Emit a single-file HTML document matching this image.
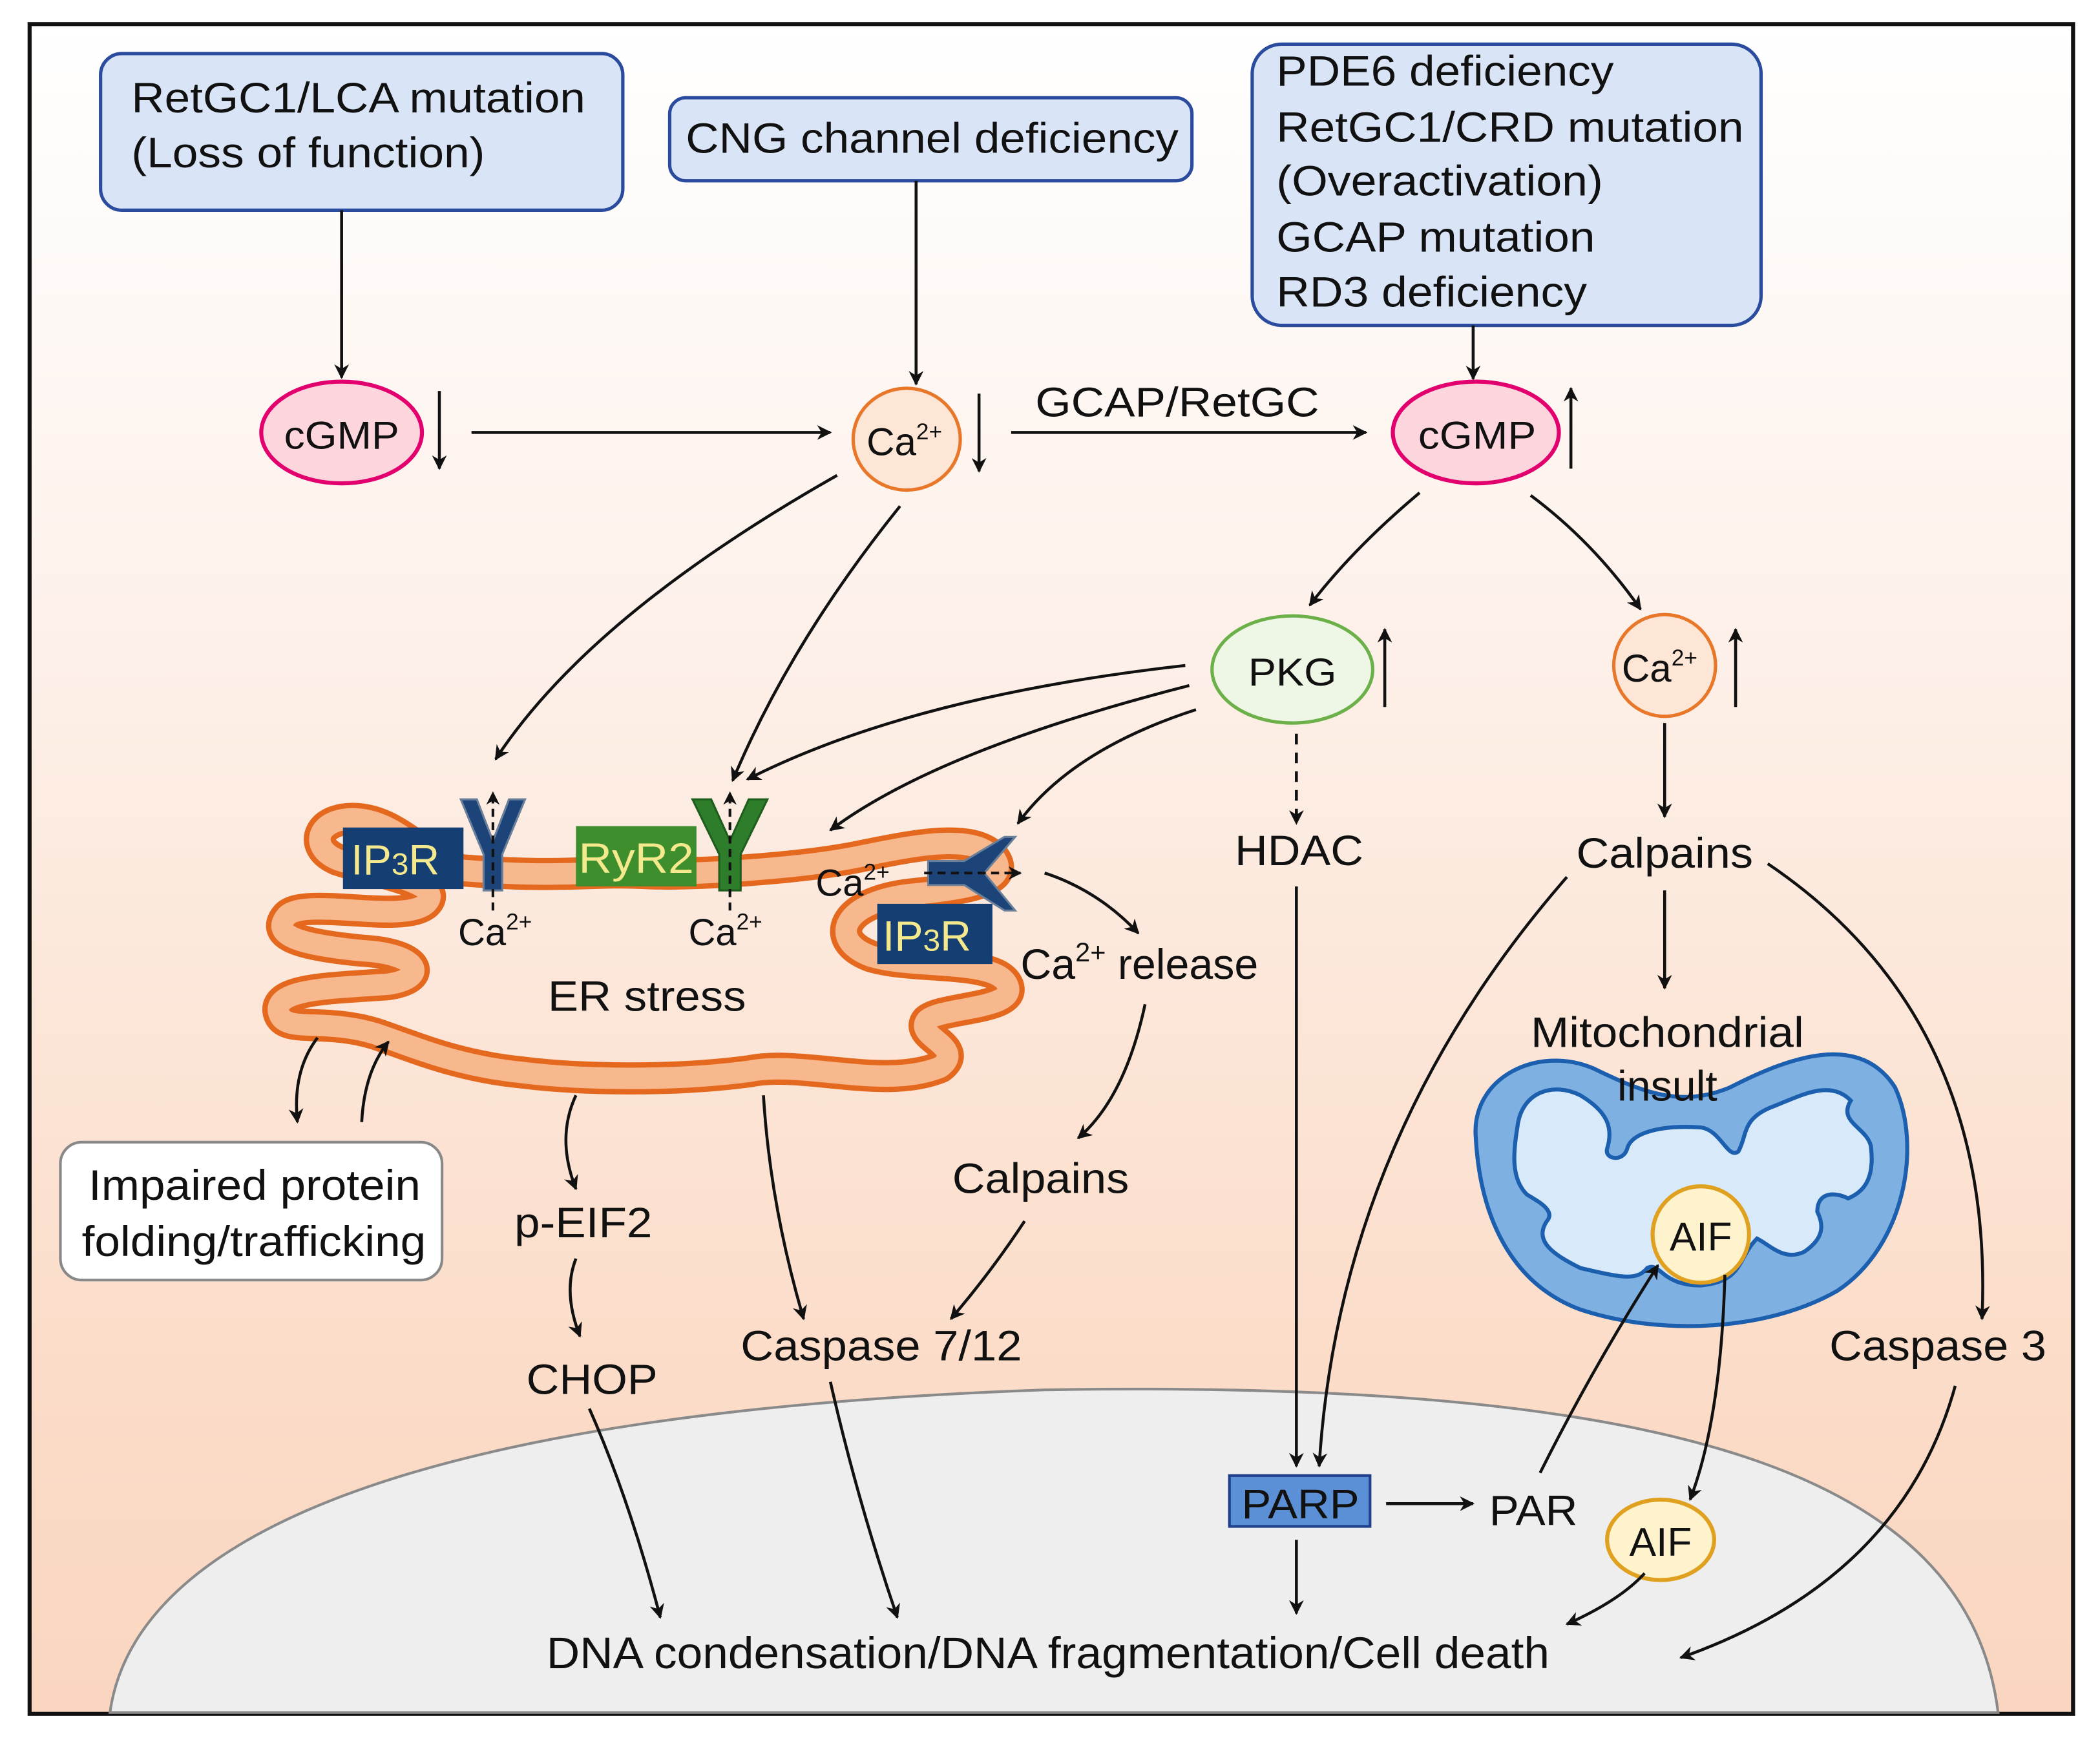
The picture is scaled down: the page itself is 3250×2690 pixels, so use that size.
<!DOCTYPE html>
<html><head><meta charset="utf-8"><style>html,body{margin:0;padding:0;background:#fff}svg{display:block}text{font-family:"Liberation Sans",Arial,sans-serif;fill:#111}</style></head>
<body>
<svg width="3250" height="2690" viewBox="0 0 1568 1298" xmlns="http://www.w3.org/2000/svg">
<defs>
<linearGradient id="bg" x1="0" y1="0" x2="0" y2="1">
<stop offset="0" stop-color="#ffffff"/><stop offset="0.35" stop-color="#fdf1ea"/><stop offset="0.8" stop-color="#fbdcc8"/><stop offset="1" stop-color="#fad6c0"/>
</linearGradient>
<marker id="a" viewBox="0 0 10 10" refX="9" refY="5" markerWidth="5" markerHeight="5" orient="auto-start-reverse"><path d="M0,0 L10,5 L0,10 L3,5 Z" fill="#111"/></marker>
</defs>
<rect x="0" y="0" width="1568" height="1298" fill="#fff"/>
<rect x="22" y="18" width="1526" height="1262" fill="url(#bg)" stroke="#111" stroke-width="3"/>
<path d="M82,1279 C100,1150 300,1055 780,1038 C1250,1030 1470,1100 1492,1279 Z" fill="#eeeeee" stroke="#8a8a8a" stroke-width="2"/>

<!-- top boxes -->
<rect x="75" y="40" width="390" height="117" rx="16" fill="#d9e5f6" stroke="#2b4c9e" stroke-width="2.5"/>
<text x="98" y="84" font-size="32" textLength="339" lengthAdjust="spacingAndGlyphs">RetGC1/LCA mutation</text>
<text x="98" y="125" font-size="32" textLength="264" lengthAdjust="spacingAndGlyphs">(Loss of function)</text>
<rect x="500" y="73" width="390" height="62" rx="12" fill="#d9e5f6" stroke="#2b4c9e" stroke-width="2.5"/>
<text x="512" y="114" font-size="32" textLength="368" lengthAdjust="spacingAndGlyphs">CNG channel deficiency</text>
<rect x="935" y="33" width="380" height="210" rx="22" fill="#d9e5f6" stroke="#2b4c9e" stroke-width="2.5"/>
<text x="953" y="64" font-size="32" textLength="252" lengthAdjust="spacingAndGlyphs">PDE6 deficiency</text>
<text x="953" y="106" font-size="32" textLength="349" lengthAdjust="spacingAndGlyphs">RetGC1/CRD mutation</text>
<text x="953" y="146" font-size="32" textLength="244" lengthAdjust="spacingAndGlyphs">(Overactivation)</text>
<text x="953" y="188" font-size="32" textLength="238" lengthAdjust="spacingAndGlyphs">GCAP mutation</text>
<text x="953" y="229" font-size="32" textLength="232" lengthAdjust="spacingAndGlyphs">RD3 deficiency</text>

<!-- nodes -->
<ellipse cx="255" cy="323" rx="60" ry="38" fill="#fdd5dc" stroke="#e2006e" stroke-width="3"/>
<text x="212" y="335" font-size="29" textLength="86" lengthAdjust="spacingAndGlyphs">cGMP</text>
<ellipse cx="677" cy="328" rx="40" ry="38" fill="#fde6d6" stroke="#e8772a" stroke-width="2.5"/>
<text x="647" y="340" font-size="29">Ca<tspan font-size="17" dy="-12">2+</tspan></text>
<ellipse cx="1102" cy="323" rx="62" ry="38" fill="#fdd5dc" stroke="#e2006e" stroke-width="3"/>
<text x="1059" y="335" font-size="29" textLength="88" lengthAdjust="spacingAndGlyphs">cGMP</text>
<ellipse cx="965" cy="500" rx="60" ry="40" fill="#eef7e6" stroke="#6cb04a" stroke-width="2.5"/>
<text x="932" y="512" font-size="29" textLength="66" lengthAdjust="spacingAndGlyphs">PKG</text>
<ellipse cx="1243" cy="497" rx="38" ry="38" fill="#fde6d6" stroke="#e8772a" stroke-width="2.5"/>
<text x="1211" y="509" font-size="29">Ca<tspan font-size="17" dy="-12">2+</tspan></text>

<!-- ER -->
<g fill="none" stroke-linejoin="round">
<path d="M345,650 C420,656 440,650 480,652 S600,648 640,640 S725,622 742,640 C756,658 722,664 680,668 C628,674 618,702 650,714 C682,724 742,716 752,735 C762,754 702,752 692,762 C682,774 722,782 702,797 C660,814 600,792 560,800 C500,808 430,806 390,801 C340,796 310,782 280,772 C240,760 212,772 208,756 C204,738 250,738 290,735 C322,730 312,712 270,710 C230,706 200,700 214,684 C228,670 300,690 318,675 C334,660 282,652 252,642 C228,632 238,608 270,612 C300,616 318,644 345,650 Z" stroke="#e4691f" stroke-width="24"/>
<path d="M345,650 C420,656 440,650 480,652 S600,648 640,640 S725,622 742,640 C756,658 722,664 680,668 C628,674 618,702 650,714 C682,724 742,716 752,735 C762,754 702,752 692,762 C682,774 722,782 702,797 C660,814 600,792 560,800 C500,808 430,806 390,801 C340,796 310,782 280,772 C240,760 212,772 208,756 C204,738 250,738 290,735 C322,730 312,712 270,710 C230,706 200,700 214,684 C228,670 300,690 318,675 C334,660 282,652 252,642 C228,632 238,608 270,612 C300,616 318,644 345,650 Z" stroke="#f8b88e" stroke-width="16"/>
</g>
<!-- receptors -->
<path d="M344,597 L356,597 L368,628 L380,597 L392,597 L375,638 L375,665 L361,665 L361,638 Z" fill="#1c4478" stroke="#6a7f99" stroke-width="1.5"/>
<path d="M517,597 L531,597 L545,628 L559,597 L573,597 L553,638 L553,665 L537,665 L537,638 Z" fill="#2e7d2a" stroke="#1f5d1f" stroke-width="1.5"/>
<path d="M693,643 L720,643 L750,625 L758,625 L735,652 L758,680 L750,680 L720,661 L693,661 Z" fill="#1c4478" stroke="#6a7f99" stroke-width="1.5"/>
<rect x="256" y="618" width="90" height="46" fill="#153e73"/>
<text x="262" y="653" font-size="32" style="fill:#f4e98c">IP<tspan font-size="23">3</tspan>R</text>
<rect x="430" y="617" width="90" height="45" fill="#3e8e2e"/>
<text x="432" y="652" font-size="32" style="fill:#f4e98c" textLength="86" lengthAdjust="spacingAndGlyphs">RyR2</text>
<rect x="655" y="675" width="86" height="45" fill="#153e73"/>
<text x="659" y="710" font-size="32" style="fill:#f4e98c">IP<tspan font-size="23">3</tspan>R</text>
<g stroke="#111" stroke-width="2" fill="none">
<line x1="368" y1="680" x2="368" y2="592" stroke-dasharray="6,4" marker-end="url(#a)"/>
<line x1="545" y1="680" x2="545" y2="592" stroke-dasharray="6,4" marker-end="url(#a)"/>
<line x1="690" y1="652" x2="762" y2="652" stroke-dasharray="6,4" marker-end="url(#a)"/>
</g>
<text x="342" y="706" font-size="28">Ca<tspan font-size="17" dy="-12">2+</tspan></text>
<text x="514" y="706" font-size="28">Ca<tspan font-size="17" dy="-12">2+</tspan></text>
<text x="609" y="669" font-size="28">Ca<tspan font-size="17" dy="-12">2+</tspan></text>
<text x="409" y="755" font-size="32" textLength="148" lengthAdjust="spacingAndGlyphs">ER stress</text>

<!-- mito -->
<path d="M1102,850 C1098,805 1148,780 1190,798 C1225,815 1255,828 1292,812 C1335,790 1388,770 1415,812 C1435,855 1423,930 1372,964 C1320,994 1240,998 1180,978 C1126,958 1105,905 1102,850 Z" fill="#7fb0e2" stroke="#1b5fae" stroke-width="3"/>
<path d="M1133,842 C1136,815 1160,808 1180,818 C1200,830 1205,842 1200,858 C1198,866 1212,868 1215,858 C1218,846 1240,840 1270,842 C1285,844 1290,866 1298,860 C1305,848 1300,835 1325,826 C1345,818 1367,806 1382,822 C1372,838 1394,842 1397,856 C1400,880 1392,890 1380,895 C1370,890 1357,890 1357,905 C1362,915 1362,925 1347,935 C1332,942 1322,930 1312,925 C1297,940 1302,957 1270,960 C1240,960 1240,942 1230,947 C1222,957 1210,954 1180,947 C1160,937 1145,927 1155,912 C1162,904 1148,897 1140,892 C1128,880 1130,860 1133,842 Z" fill="#d8eaf9" stroke="#1b5fae" stroke-width="3"/>
<text x="1143" y="782" font-size="32" textLength="204" lengthAdjust="spacingAndGlyphs">Mitochondrial</text>
<text x="1245" y="822" font-size="32" text-anchor="middle">insult</text>
<circle cx="1270" cy="922" r="36" fill="#fef3cc" stroke="#e0a020" stroke-width="3"/>
<text x="1270" y="934" font-size="30" text-anchor="middle">AIF</text>
<ellipse cx="1240" cy="1150" rx="40" ry="30" fill="#fef3cc" stroke="#e0a020" stroke-width="3"/>
<text x="1240" y="1162" font-size="30" text-anchor="middle">AIF</text>

<!-- other labels -->
<text x="773" y="311" font-size="31" textLength="212" lengthAdjust="spacingAndGlyphs">GCAP/RetGC</text>
<text x="922" y="646" font-size="32" textLength="96" lengthAdjust="spacingAndGlyphs">HDAC</text>
<text x="1177" y="648" font-size="32" textLength="132" lengthAdjust="spacingAndGlyphs">Calpains</text>
<text x="1366" y="1016" font-size="32" textLength="162" lengthAdjust="spacingAndGlyphs">Caspase 3</text>
<rect x="918" y="1102" width="105" height="38" fill="#5b8fd6" stroke="#1f3f8a" stroke-width="2"/>
<text x="927" y="1134" font-size="31" textLength="88" lengthAdjust="spacingAndGlyphs">PARP</text>
<text x="1112" y="1139" font-size="32" textLength="66" lengthAdjust="spacingAndGlyphs">PAR</text>
<text x="408" y="1246" font-size="33" textLength="749" lengthAdjust="spacingAndGlyphs">DNA condensation/DNA fragmentation/Cell death</text>
<text x="553" y="1016" font-size="32" textLength="210" lengthAdjust="spacingAndGlyphs">Caspase 7/12</text>
<text x="393" y="1041" font-size="32" textLength="98" lengthAdjust="spacingAndGlyphs">CHOP</text>
<text x="384" y="924" font-size="32" textLength="103" lengthAdjust="spacingAndGlyphs">p-EIF2</text>
<text x="711" y="891" font-size="32" textLength="132" lengthAdjust="spacingAndGlyphs">Calpains</text>
<text x="762" y="731" font-size="32">Ca<tspan font-size="20" dy="-13">2+</tspan><tspan dy="13"> release</tspan></text>
<rect x="45" y="853" width="285" height="103" rx="16" fill="#fff" stroke="#888" stroke-width="2"/>
<text x="66" y="896" font-size="32" textLength="248" lengthAdjust="spacingAndGlyphs">Impaired protein</text>
<text x="61" y="938" font-size="32" textLength="257" lengthAdjust="spacingAndGlyphs">folding/trafficking</text>

<!-- arrows -->
<g stroke="#111" stroke-width="2.2" fill="none" marker-end="url(#a)">
<line x1="255" y1="157" x2="255" y2="282"/>
<line x1="328" y1="292" x2="328" y2="350"/>
<line x1="352" y1="323" x2="620" y2="323"/>
<line x1="684" y1="135" x2="684" y2="287"/>
<line x1="731" y1="294" x2="731" y2="352"/>
<line x1="755" y1="323" x2="1020" y2="323"/>
<line x1="1100" y1="243" x2="1100" y2="283"/>
<line x1="1173" y1="350" x2="1173" y2="290"/>
<path d="M1060,368 Q1010,410 978,452"/>
<path d="M1143,370 Q1190,405 1225,455"/>
<line x1="1034" y1="528" x2="1034" y2="470"/>
<line x1="1296" y1="528" x2="1296" y2="470"/>
<path d="M625,355 Q440,460 370,567"/>
<path d="M672,378 Q590,480 547,583"/>
<path d="M885,497 Q680,520 558,582"/>
<path d="M888,512 Q700,560 620,620"/>
<path d="M893,530 Q800,560 760,615"/>
<line x1="968" y1="548" x2="968" y2="615" stroke-dasharray="8,6"/>
<line x1="968" y1="662" x2="968" y2="1095"/>
<line x1="1243" y1="540" x2="1243" y2="610"/>
<line x1="1243" y1="665" x2="1243" y2="738"/>
<path d="M1170,655 Q1000,850 985,1095"/>
<path d="M1320,645 Q1490,760 1480,985"/>
<path d="M780,652 Q820,665 850,697"/>
<path d="M855,750 Q840,820 805,850"/>
<path d="M765,912 Q740,950 710,985"/>
<path d="M570,818 Q575,900 600,985"/>
<path d="M430,818 Q415,850 430,888"/>
<path d="M430,940 Q420,965 433,998"/>
<path d="M237,775 Q218,800 222,838"/>
<path d="M270,838 Q272,800 290,778"/>
<path d="M440,1052 Q470,1120 493,1208"/>
<path d="M620,1032 Q640,1120 670,1208"/>
<line x1="968" y1="1150" x2="968" y2="1205"/>
<line x1="1035" y1="1123" x2="1100" y2="1123"/>
<path d="M1150,1100 Q1190,1020 1238,945"/>
<path d="M1288,952 Q1285,1060 1262,1120"/>
<path d="M1228,1175 Q1210,1195 1170,1213"/>
<path d="M1460,1035 Q1420,1180 1255,1238"/>
</g>
</svg>
</body></html>
